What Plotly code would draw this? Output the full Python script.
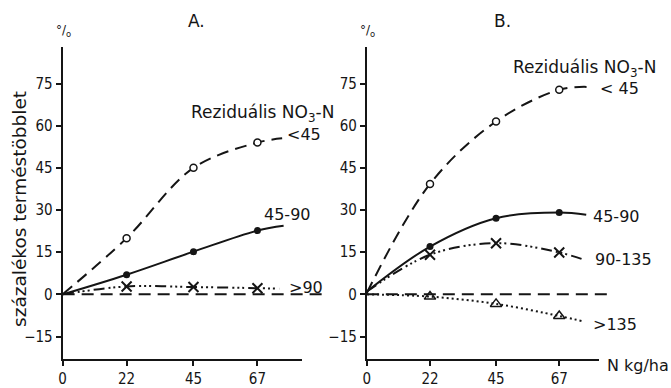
import plotly.graph_objects as go

# ---- data ----
N_levels = [22, 45, 67]          # N kg/ha (measured points)
x_ticks = [0, 22, 45, 67]
y_ticks = [-15, 0, 15, 30, 45, 60, 75]

# Panel A (start value, values at 22/45/67, curve end x, curve end y)
A_lt45 = [20, 45, 54];      A_lt45_start = 0;  A_lt45_end = (75.5, 55.5)
A_45_90 = [7, 15.2, 22.7];  A_45_90_start = 0; A_45_90_end = (76, 24.4)
A_gt90 = [2.8, 2.6, 2.2];   A_gt90_start = 0;  A_gt90_end = (74.5, 2.0)

# Panel B
B_lt45 = [39.3, 61.5, 72.8];   B_lt45_start = 0.5; B_lt45_end = (77, 73.8)
B_45_90 = [17, 27.1, 29.1];    B_45_90_start = 1;  B_45_90_end = (76.4, 28.3)
B_90_135 = [14.1, 18.2, 14.9]; B_90_135_start = 1; B_90_135_end = (75.7, 12.3)
B_gt135 = [-0.8, -3.4, -7.7];  B_gt135_start = 0;  B_gt135_end = (75.7, -9.7)

W, H = 671, 388
FONT = "DejaVu Sans, sans-serif"
FONT_C = "DejaVu Sans Condensed, DejaVu Sans, sans-serif"
BLACK = "#151515"

DASH = "12px,7px"
DASHDOT2 = "11px,4px,2px,3px,2px,3px,2px,4px"
DOT = "2px,3px"

fig = go.Figure()


def add_series(xa, ya, vals, start, end, dash, width, marker_symbol, msize, mfill, mline):
    xs = [0] + N_levels + [end[0]]
    ys = [start] + vals + [end[1]]
    fig.add_trace(go.Scatter(x=xs, y=ys, xaxis=xa, yaxis=ya, mode="lines",
                             line=dict(color=BLACK, width=width, dash=dash,
                                       shape="spline", smoothing=1.0),
                             showlegend=False, hoverinfo="skip"))
    fig.add_trace(go.Scatter(x=N_levels, y=vals, xaxis=xa, yaxis=ya, mode="markers",
                             marker=dict(symbol=marker_symbol, size=msize, color=mfill,
                                         line=dict(color=BLACK, width=mline)),
                             showlegend=False, hoverinfo="skip"))


# Panel A
add_series("x", "y", A_lt45, A_lt45_start, A_lt45_end, DASH, 2, "circle", 7, "white", 1.5)
add_series("x", "y", A_45_90, A_45_90_start, A_45_90_end, "solid", 2, "circle", 7, BLACK, 0)
add_series("x", "y", A_gt90, A_gt90_start, A_gt90_end, DASHDOT2, 2, "x-thin-open", 10, BLACK, 2)
# Panel B
add_series("x2", "y2", B_lt45, B_lt45_start, B_lt45_end, DASH, 2, "circle", 7, "white", 1.5)
add_series("x2", "y2", B_45_90, B_45_90_start, B_45_90_end, "solid", 2, "circle", 7, BLACK, 0)
add_series("x2", "y2", B_90_135, B_90_135_start, B_90_135_end, DASHDOT2, 2, "x-thin-open", 10, BLACK, 2)
add_series("x2", "y2", B_gt135, B_gt135_start, B_gt135_end, DOT, 2, "triangle-up-open", 10, BLACK, 1.5)

# zero reference lines (extend a little past the x axis)
fig.add_shape(type="line", xref="x domain", yref="y", x0=0, x1=1.105, y0=0, y1=0,
              line=dict(color=BLACK, width=2, dash=DASH))
fig.add_shape(type="line", xref="x2 domain", yref="y2", x0=0, x1=1.035, y0=0, y1=0,
              line=dict(color=BLACK, width=2, dash=DASH))

ydom = [1 - 359 / H, 1 - 47 / H]
axis_common = dict(showline=True, linewidth=2, linecolor=BLACK, ticks="outside",
                   ticklen=5, tickwidth=1.5, tickcolor=BLACK, showgrid=False,
                   zeroline=False, tickfont=dict(family=FONT_C, size=15, color=BLACK))

fig.update_layout(
    width=W, height=H,
    margin=dict(l=0, r=0, t=0, b=0),
    paper_bgcolor="white", plot_bgcolor="rgba(0,0,0,0)",
    xaxis=dict(domain=[59 / W, 300 / W], range=[0, 82.4], tickvals=x_ticks,
               anchor="y", **axis_common),
    yaxis=dict(domain=ydom, range=[-23, 88], tickvals=y_ticks, anchor="x", **axis_common),
    xaxis2=dict(domain=[365 / W, 599 / W], range=[0, 81], tickvals=x_ticks,
                anchor="y2", **axis_common),
    yaxis2=dict(domain=ydom, range=[-23, 88], tickvals=y_ticks, anchor="x2", **axis_common),
)

tf = dict(family=FONT, size=16, color=BLACK)
tf_big = dict(family=FONT, size=17, color=BLACK)
ann = []
# panel titles and % marks
ann.append(dict(text="A.", x=194 / W, y=1 - 21 / H, xref="paper", yref="paper",
                xanchor="center", yanchor="middle", showarrow=False, font=tf_big))
ann.append(dict(text="B.", x=501 / W, y=1 - 21 / H, xref="paper", yref="paper",
                xanchor="center", yanchor="middle", showarrow=False, font=tf_big))
for px in (60, 366):
    ann.append(dict(text="°/<sub>o</sub>", x=px / W, y=1 - 31 / H, xref="paper", yref="paper",
                    xanchor="center", yanchor="middle", showarrow=False,
                    font=dict(family=FONT, size=12, color=BLACK)))
# y title
ann.append(dict(text="százalékos terméstöbblet", x=15 / W, y=1 - 209 / H, xref="paper", yref="paper",
                xanchor="center", yanchor="middle", textangle=-90, showarrow=False,
                font=dict(family=FONT, size=18.5, color=BLACK)))
# curve labels panel A
ann.append(dict(text="Reziduális NO<sub>3</sub>-N", x=43.5, y=64.5, xref="x", yref="y",
                xanchor="left", showarrow=False, font=tf_big))
for txt, x, y in [("<45", 76.6, 56.8), ("45-90", 68.7, 28.3), (">90", 77.3, 2.3)]:
    ann.append(dict(text=txt, x=x, y=y, xref="x", yref="y", xanchor="left", showarrow=False, font=tf))
# curve labels panel B
ann.append(dict(text="Reziduális NO<sub>3</sub>-N", x=50.3, y=80.5, xref="x2", yref="y2",
                xanchor="left", showarrow=False, font=tf_big))
for txt, x, y in [("< 45", 80.6, 73.1), ("45-90", 78.1, 27.7), ("90-135", 78.8, 12.3), (">135", 78.1, -10.9)]:
    ann.append(dict(text=txt, x=x, y=y, xref="x2", yref="y2", xanchor="left", showarrow=False, font=tf))
# x unit
ann.append(dict(text="N kg/ha", x=1.0, y=1 - 377 / H, xref="paper", yref="paper",
                xanchor="right", showarrow=False, font=tf))
fig.update_layout(annotations=ann)

fig.write_html("out.html", config={"displayModeBar": False},
               post_script="document.body.style.margin='0';document.body.style.overflow='hidden';")
